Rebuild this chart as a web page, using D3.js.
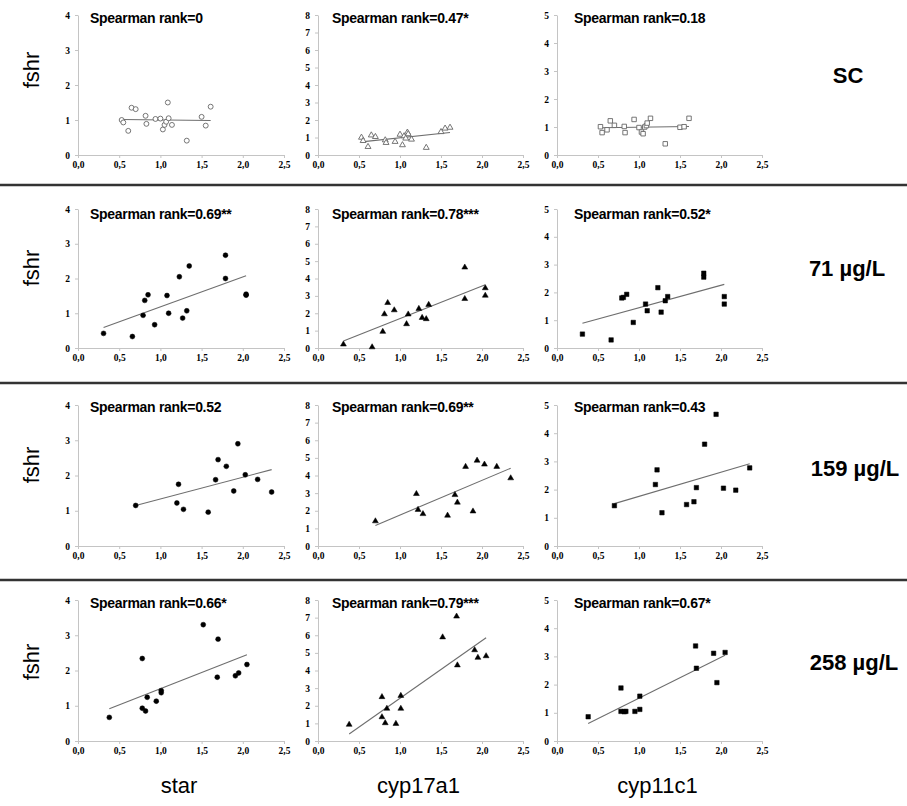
<!DOCTYPE html>
<html>
<head>
<meta charset="utf-8">
<script src="https://cdn.jsdelivr.net/npm/d3@7"></script>
<style>
  body { margin: 0; background: #fff; }
  svg { display: block; }
</style>
</head>
<body>
<svg id="chart" width="907" height="806"></svg>
<script>
// ---- data ----
var genes = ["star", "cyp17a1", "cyp11c1"];
var groups = ["SC", "71 µg/L", "159 µg/L", "258 µg/L"];
var yMax = [4, 8, 5];
var xTicks = [0, 0.5, 1, 1.5, 2, 2.5];
var spearman = [
  ["0", "0.47*", "0.18"],
  ["0.69**", "0.78***", "0.52*"],
  ["0.52", "0.69**", "0.43"],
  ["0.66*", "0.79***", "0.67*"]
];

var xSC = [0.53, 0.55, 0.61, 0.65, 0.70, 0.82, 0.83, 0.94, 1.00, 1.03, 1.05, 1.07, 1.09, 1.10, 1.14, 1.32, 1.50, 1.55, 1.61];
var scStar  = [1.00, 0.93, 0.69, 1.35, 1.31, 1.12, 0.89, 1.03, 1.04, 0.73, 0.86, 0.95, 1.50, 1.05, 0.86, 0.41, 1.09, 0.84, 1.38];
var scCyp17 = [1.00, 0.81, 0.47, 1.13, 1.04, 0.85, 0.70, 0.76, 1.17, 0.57, 1.08, 0.95, 1.29, 1.20, 0.89, 0.42, 1.32, 1.52, 1.57];
var scCyp11 = [1.01, 0.80, 0.90, 1.22, 1.06, 1.02, 0.80, 1.27, 0.98, 0.82, 0.76, 1.00, 1.05, 1.14, 1.31, 0.40, 0.99, 1.01, 1.31];

var x71 = [0.31, 0.66, 0.79, 0.81, 0.85, 0.93, 1.08, 1.10, 1.23, 1.27, 1.32, 1.35, 1.79, 1.79, 2.04, 2.04];
var e71Star  = [0.42, 0.33, 0.94, 1.37, 1.53, 0.67, 1.51, 1.00, 2.05, 0.86, 1.07, 2.36, 2.67, 2.00, 1.55, 1.52];
var e71Cyp17 = [0.21, 0.05, 0.94, 1.95, 2.60, 2.18, 1.38, 1.94, 2.26, 1.74, 1.67, 2.49, 4.64, 2.83, 3.45, 3.02];
var e71Cyp11 = [0.50, 0.29, 1.80, 1.82, 1.93, 0.92, 1.58, 1.34, 2.17, 1.29, 1.70, 1.85, 2.69, 2.55, 1.85, 1.58];

var x159 = [0.70, 1.20, 1.22, 1.28, 1.58, 1.67, 1.70, 1.80, 1.89, 1.94, 2.03, 2.18, 2.35];
var e159Star  = [1.15, 1.22, 1.75, 1.04, 0.96, 1.88, 2.45, 2.26, 1.56, 2.90, 2.02, 1.89, 1.53];
var e159Cyp17 = [1.41, 2.96, 2.06, 1.82, 1.73, 2.90, 2.47, 4.50, 1.97, 4.85, 4.63, 4.50, 3.85];
var e159Cyp11 = [1.43, 2.18, 2.70, 1.18, 1.47, 1.57, 2.07, 3.61, null, 4.67, 2.05, 1.98, 2.77];

var x258 = [0.38, 0.78, 0.78, 0.82, 0.84, 0.95, 1.01, 1.01, 1.52, 1.69, 1.70, 1.91, 1.95, 2.05];
var e258Star  = [0.67, 2.34, 0.93, 0.85, 1.24, 1.13, 1.43, 1.37, 3.30, 1.81, 2.89, 1.85, 1.93, 2.17];
var e258Cyp17 = [0.93, 2.50, 1.36, 1.02, 1.84, 0.98, 2.57, 1.84, 5.89, 7.07, 4.30, 5.16, 4.73, 4.82];
var e258Cyp11 = [0.86, 1.88, 1.05, 1.04, 1.05, 1.05, 1.59, 1.12, null, 3.37, 2.58, 3.11, 2.07, 3.14];

var rowX = [xSC, x71, x159, x258];
var rowY = [
  [scStar, scCyp17, scCyp11],
  [e71Star, e71Cyp17, e71Cyp11],
  [e159Star, e159Cyp17, e159Cyp11],
  [e258Star, e258Cyp17, e258Cyp11]
];

// ---- layout ----
var colRange = [[78, 284], [318, 523], [557, 762]];
var rowRange = [[155, 15], [348, 209], [546, 405], [741, 600]];
var labelDy = [8, 10, 7, 8];
var labelDx = [12, 14, 17];
var groupX = [848, 847, 855, 854];
var groupY = [75, 268, 468, 662];
var fshrY = [70, 268, 465, 662];
var separators = [185, 383, 580];
var symbolTypes = [d3.symbolCircle, d3.symbolTriangle, d3.symbolSquare];
var symbolSizes = [19, 15, 20];

var svg = d3.select("#chart");
var commaFmt = function (d) { return d3.format(".1f")(d).replace(".", ","); };

function fitLine(pts) {
  var mx = d3.mean(pts, function (p) { return p[0]; });
  var my = d3.mean(pts, function (p) { return p[1]; });
  var sxy = d3.sum(pts, function (p) { return (p[0] - mx) * (p[1] - my); });
  var sxx = d3.sum(pts, function (p) { return (p[0] - mx) * (p[0] - mx); });
  var b = sxy / sxx;
  return { slope: b, icept: my - b * mx };
}

function drawPanel(r, c) {
  var x = d3.scaleLinear().domain([0, 2.5]).range(colRange[c]);
  var y = d3.scaleLinear().domain([0, yMax[c]]).range(rowRange[r]);
  var g = svg.append("g").attr("class", "panel");

  var xAxis = g.append("g")
    .attr("transform", "translate(0," + rowRange[r][0] + ")")
    .call(d3.axisBottom(x).tickValues(xTicks).tickSize(3).tickSizeOuter(0).tickFormat(commaFmt));
  var yAxis = g.append("g")
    .attr("transform", "translate(" + colRange[c][0] + ",0)")
    .call(d3.axisLeft(y).tickValues(d3.range(0, yMax[c] + 1)).tickSize(3).tickSizeOuter(0).tickPadding(5).tickFormat(d3.format("d")));

  [xAxis, yAxis].forEach(function (a) {
    a.select(".domain").attr("stroke", "#c4c4c4");
    a.selectAll(".tick line").attr("stroke", "#c4c4c4");
    a.selectAll(".tick text")
      .attr("fill", "#000")
      .attr("font-family", "'Liberation Serif', serif")
      .attr("font-weight", "bold")
      .attr("font-size", 9.5);
  });

  var pts = rowX[r].map(function (v, i) { return [v, rowY[r][c][i]]; })
    .filter(function (p) { return p[1] != null; });

  // linear trend over the data range
  var fit = fitLine(pts);
  var x0 = d3.min(pts, function (p) { return p[0]; });
  var x1 = d3.max(pts, function (p) { return p[0]; });
  g.append("line")
    .attr("x1", x(x0)).attr("y1", y(fit.icept + fit.slope * x0))
    .attr("x2", x(x1)).attr("y2", y(fit.icept + fit.slope * x1))
    .attr("stroke", "#6e6e6e")
    .attr("stroke-width", 1.1);

  var open = r === 0;
  g.selectAll("path.pt")
    .data(pts)
    .enter().append("path")
    .attr("class", "pt")
    .attr("transform", function (p) { return "translate(" + x(p[0]) + "," + y(p[1]) + ")"; })
    .attr("d", d3.symbol().type(symbolTypes[c]).size(symbolSizes[c]))
    .attr("fill", open ? "#fff" : "#000")
    .attr("stroke", open ? "#666" : "#000")
    .attr("stroke-width", open ? 0.9 : 0.5);

  g.append("text")
    .attr("x", colRange[c][0] + labelDx[c])
    .attr("y", rowRange[r][1] + labelDy[r])
    .attr("font-family", "Arial, 'Liberation Sans', sans-serif")
    .attr("font-weight", "bold")
    .attr("font-size", 14)
    .attr("letter-spacing", -0.3)
    .attr("fill", "#000")
    .text("Spearman rank=" + spearman[r][c]);
}

for (var r = 0; r < groups.length; r++) {
  for (var c = 0; c < genes.length; c++) {
    drawPanel(r, c);
  }
  svg.append("text")
    .attr("transform", "translate(31," + fshrY[r] + ") rotate(-90)")
    .attr("text-anchor", "middle")
    .attr("dy", "0.35em")
    .attr("font-family", "Arial, 'Liberation Sans', sans-serif")
    .attr("font-size", 22)
    .text("fshr");
  svg.append("text")
    .attr("x", groupX[r])
    .attr("y", groupY[r])
    .attr("text-anchor", "middle")
    .attr("dy", "0.35em")
    .attr("font-family", "Arial, 'Liberation Sans', sans-serif")
    .attr("font-weight", "bold")
    .attr("font-size", 22)
    .text(groups[r]);
}

separators.forEach(function (sy) {
  svg.append("line")
    .attr("x1", 0).attr("x2", 907)
    .attr("y1", sy).attr("y2", sy)
    .attr("stroke", "#333")
    .attr("stroke-width", 2.5);
});

genes.forEach(function (gname, c) {
  svg.append("text")
    .attr("x", (colRange[c][0] + colRange[c][1]) / 2 - 2)
    .attr("y", 793)
    .attr("text-anchor", "middle")
    .attr("font-family", "Arial, 'Liberation Sans', sans-serif")
    .attr("font-size", 22)
    .text(gname);
});
</script>
</body>
</html>
